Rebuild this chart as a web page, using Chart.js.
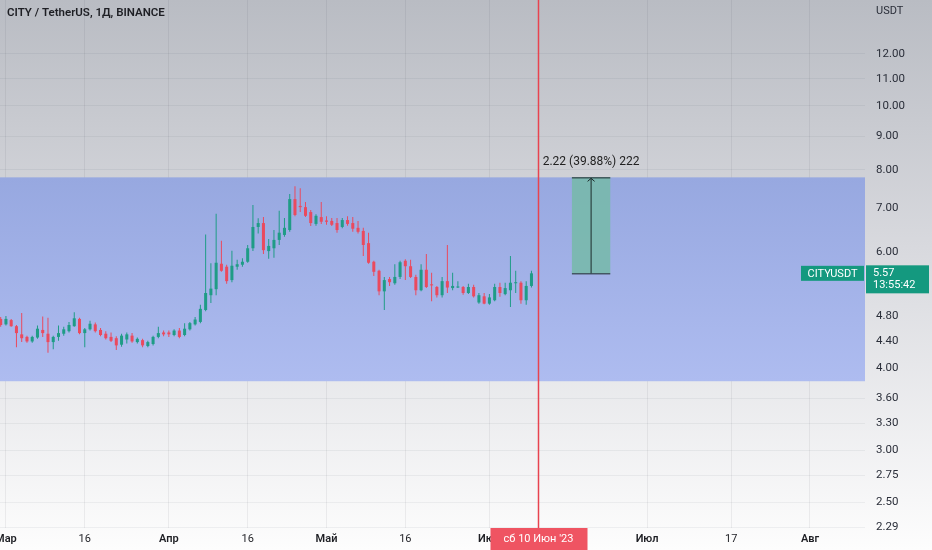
<!DOCTYPE html>
<html>
<head>
<meta charset="utf-8">
<script src="https://cdn.jsdelivr.net/npm/chart.js@4.4.0/dist/chart.umd.min.js"></script>
<style>
  html, body { margin: 0; padding: 0; background: #fff; }
  #wrap { width: 932px; height: 550px; position: relative; }
</style>
</head>
<body>
<div id="wrap"><canvas id="cityChart"></canvas></div>
<script>
const chartTitle = 'CITY / TetherUS, 1Д, BINANCE';
const firstCandleDay = -1; // 28 Feb 2023, days counted from 1 Mar 2023

const opens = [
  4.75, 4.66, 4.73, 4.63, 4.50, 4.46, 4.39, 4.45, 4.57, 4.51,
  4.38, 4.46, 4.51, 4.55, 4.63, 4.75, 4.52, 4.58, 4.66, 4.57,
  4.51, 4.46, 4.44, 4.34, 4.42, 4.48, 4.38, 4.41, 4.32, 4.35,
  4.46, 4.53, 4.53, 4.49, 4.56, 4.49, 4.58, 4.66, 4.70, 4.90,
  5.16, 5.27, 5.76, 5.70, 5.44, 5.70, 5.74, 5.80, 6.08, 6.55,
  6.64, 6.02, 6.08, 6.26, 6.37, 6.48, 7.22, 7.05, 7.02, 6.90,
  6.62, 6.78, 6.70, 6.69, 6.64, 6.55, 6.71, 6.64, 6.53, 6.46,
  6.19, 5.80, 5.62, 5.23, 5.46, 5.38, 5.50, 5.82, 5.71, 5.50,
  5.25, 5.64, 5.36, 5.31, 5.16, 5.42, 5.29, 5.30, 5.31, 5.20,
  5.31, 5.03, 5.14, 5.01, 5.07, 5.31, 5.18, 5.25, 5.38, 5.39,
  5.07, 5.33
];
const highs = [
  4.78, 4.80, 4.75, 4.65, 4.85, 4.48, 4.48, 4.64, 4.79, 4.77,
  4.48, 4.64, 4.62, 4.70, 4.86, 4.77, 4.60, 4.72, 4.69, 4.60,
  4.55, 4.53, 4.47, 4.51, 4.53, 4.52, 4.45, 4.43, 4.40, 4.48,
  4.62, 4.56, 4.56, 4.58, 4.60, 4.68, 4.70, 4.78, 4.99, 6.38,
  5.77, 6.86, 6.24, 5.74, 6.03, 5.84, 5.87, 6.15, 7.07, 6.75,
  6.78, 6.28, 6.48, 6.93, 6.76, 7.35, 7.55, 7.50, 7.15, 6.95,
  6.85, 7.15, 6.80, 6.76, 6.76, 6.76, 6.80, 6.78, 6.69, 6.53,
  6.42, 5.82, 5.64, 5.50, 5.50, 5.75, 5.82, 5.85, 5.84, 5.54,
  5.75, 5.96, 5.58, 5.33, 5.50, 6.15, 5.58, 5.42, 5.33, 5.37,
  5.35, 5.20, 5.20, 5.18, 5.37, 5.39, 5.39, 5.92, 5.62, 5.42,
  5.42, 5.62
];
const lows = [
  4.62, 4.64, 4.62, 4.30, 4.38, 4.37, 4.37, 4.43, 4.46, 4.22,
  4.27, 4.40, 4.48, 4.53, 4.62, 4.50, 4.30, 4.56, 4.53, 4.47,
  4.42, 4.38, 4.26, 4.31, 4.36, 4.37, 4.36, 4.30, 4.30, 4.33,
  4.44, 4.47, 4.46, 4.47, 4.44, 4.47, 4.56, 4.64, 4.68, 4.88,
  5.02, 5.16, 5.60, 5.37, 5.40, 5.64, 5.70, 5.78, 6.02, 6.40,
  5.96, 5.86, 5.88, 6.15, 6.33, 6.44, 6.80, 6.90, 6.78, 6.57,
  6.58, 6.62, 6.60, 6.57, 6.42, 6.52, 6.58, 6.44, 6.40, 5.92,
  5.76, 5.52, 5.16, 4.90, 5.33, 5.35, 5.46, 5.44, 5.48, 5.16,
  5.23, 5.29, 5.05, 5.12, 5.12, 5.20, 5.25, 5.29, 5.17, 5.18,
  5.12, 5.01, 5.00, 4.99, 5.05, 5.13, 5.16, 4.95, 5.20, 5.01,
  4.99, 5.30
];
const closes = [
  4.65, 4.75, 4.63, 4.52, 4.44, 4.39, 4.46, 4.59, 4.52, 4.38,
  4.46, 4.52, 4.58, 4.65, 4.76, 4.52, 4.58, 4.67, 4.55, 4.49,
  4.44, 4.40, 4.33, 4.48, 4.50, 4.39, 4.43, 4.33, 4.38, 4.46,
  4.52, 4.50, 4.50, 4.56, 4.46, 4.59, 4.68, 4.74, 4.92, 5.20,
  5.28, 5.78, 5.62, 5.42, 5.72, 5.75, 5.80, 6.08, 6.55, 6.64,
  6.04, 6.13, 6.26, 6.42, 6.53, 7.22, 6.83, 7.02, 6.81, 6.64,
  6.81, 6.67, 6.67, 6.60, 6.48, 6.71, 6.62, 6.51, 6.44, 6.15,
  5.78, 5.60, 5.23, 5.44, 5.40, 5.50, 5.79, 5.71, 5.50, 5.25,
  5.64, 5.31, 5.34, 5.16, 5.42, 5.30, 5.33, 5.32, 5.20, 5.31,
  5.14, 5.16, 5.01, 5.12, 5.31, 5.20, 5.29, 5.39, 5.40, 5.07,
  5.33, 5.57
];

const xTickDays = [0, 15, 31, 46, 61, 76, 92, 122, 138, 153];
const xTickLabels = ['Мар', '16', 'Апр', '16', 'Май', '16', 'Июн', 'Июл', '17', 'Авг'];
const monthNames = ['Мар', 'Апр', 'Май', 'Июн', 'Июл', 'Авг'];
const yTicks = [2.29, 2.5, 2.75, 3, 3.3, 3.6, 4, 4.4, 4.8, 6, 7, 8, 9, 10, 11, 12];

const lastPrice = 5.57;
const lastTimer = '13:55:42';
const rangeTop = 7.79;
const rangeBottom = 3.82;
const measureFrom = 5.57;
const measureTo = 7.79;
const measureDays = [107.7, 115];
const measureLabel = '2.22 (39.88%) 222';
const cursorDay = 101.2;
const cursorLabel = "сб 10 Июн '23";

const UP = '#1f9c86';
const DOWN = '#ea4a5e';

const candleColors = opens.map((o, i) => closes[i] >= o ? UP : DOWN);
const bodies = opens.map((o, i) => ({ x: firstCandleDay + i, y: [o, closes[i]] }));
const wicks = lows.map((l, i) => ({ x: firstCandleDay + i, y: [l, highs[i]] }));

const noPadding = (s) => {
  s.paddingTop = 0; s.paddingBottom = 0; s.paddingLeft = 0; s.paddingRight = 0;
};

const decor = {
  id: 'decor',
  beforeDraw(chart) {
    const ctx = chart.ctx;
    const g = ctx.createLinearGradient(0, 0, 0, chart.height);
    g.addColorStop(0, '#b9bcc3');
    g.addColorStop(0.45, '#d8d9de');
    g.addColorStop(1, '#fdfdfd');
    ctx.save();
    ctx.fillStyle = g;
    ctx.fillRect(0, 0, chart.width, chart.height);
    ctx.restore();
  },
  beforeDatasetsDraw(chart) {
    const { ctx, chartArea: a, scales: { y } } = chart;
    const top = y.getPixelForValue(rangeTop);
    const bottom = y.getPixelForValue(rangeBottom);
    const g = ctx.createLinearGradient(0, top, 0, bottom);
    g.addColorStop(0, '#97a8e0');
    g.addColorStop(1, '#aebcf0');
    ctx.save();
    ctx.fillStyle = g;
    ctx.fillRect(a.left, top, a.right - a.left, bottom - top);
    ctx.restore();
  },
  afterDatasetsDraw(chart) {
    const { ctx, scales: { x, y } } = chart;
    const x0 = x.getPixelForValue(measureDays[0]);
    const x1 = x.getPixelForValue(measureDays[1]);
    const yTop = y.getPixelForValue(measureTo);
    const yBot = y.getPixelForValue(measureFrom);
    const xm = (x0 + x1) / 2;
    ctx.save();
    ctx.fillStyle = 'rgba(118, 186, 168, 0.85)';
    ctx.fillRect(x0, yTop, x1 - x0, yBot - yTop);
    ctx.strokeStyle = '#1c2a2a';
    ctx.lineWidth = 1;
    ctx.beginPath();
    ctx.moveTo(x0, yTop + 0.5); ctx.lineTo(x1, yTop + 0.5);
    ctx.moveTo(x0, yBot + 0.5); ctx.lineTo(x1, yBot + 0.5);
    ctx.moveTo(xm, yBot); ctx.lineTo(xm, yTop + 1);
    ctx.moveTo(xm - 3.5, yTop + 4); ctx.lineTo(xm, yTop + 1); ctx.lineTo(xm + 3.5, yTop + 4);
    ctx.stroke();
    ctx.fillStyle = '#222';
    ctx.font = '12px Roboto';
    ctx.textAlign = 'center';
    ctx.textBaseline = 'middle';
    ctx.fillText(measureLabel, xm, yTop - 15);
    ctx.restore();
  },
  afterDraw(chart) {
    const { ctx, chartArea: a, scales: { x, y } } = chart;
    ctx.save();
    // title and currency
    ctx.fillStyle = '#1e1f24';
    ctx.font = '600 11.5px Roboto';
    ctx.textBaseline = 'middle';
    ctx.textAlign = 'left';
    ctx.fillText(chartTitle, 7, 13);
    ctx.fillStyle = '#2a2e39';
    ctx.font = '11px Roboto';
    ctx.fillText('USDT', a.right + 11, 11);

    // cursor line
    const cx = Math.round(x.getPixelForValue(cursorDay)) + 0.5;
    ctx.strokeStyle = '#e8434f';
    ctx.lineWidth = 1.5;
    ctx.beginPath();
    ctx.moveTo(cx, 0);
    ctx.lineTo(cx, a.bottom);
    ctx.stroke();
    ctx.fillStyle = '#ef5462';
    ctx.fillRect(cx - 48, a.bottom, 97, chart.height - a.bottom);
    ctx.fillStyle = '#fff';
    ctx.font = '11px Roboto';
    ctx.textAlign = 'center';
    ctx.fillText(cursorLabel, cx, a.bottom + 11);

    // last price labels
    const py = y.getPixelForValue(lastPrice);
    ctx.fillStyle = '#14997f';
    ctx.fillRect(a.right - 64, py - 7.5, 63, 15);
    ctx.fillRect(a.right + 1, py - 8, 63, 28);
    ctx.fillStyle = '#fff';
    ctx.textAlign = 'center';
    ctx.font = '11px Roboto';
    ctx.fillText('CITYUSDT', a.right - 32.5, py + 0.5);
    ctx.textAlign = 'left';
    ctx.fillText(lastPrice.toFixed(2), a.right + 8, py);
    ctx.fillText(lastTimer, a.right + 8, py + 12);
    ctx.restore();
  }
};

new Chart(document.getElementById('cityChart'), {
  type: 'bar',
  data: {
    datasets: [{
      label: 'body',
      data: bodies,
      backgroundColor: candleColors,
      grouped: false,
      barPercentage: 0.72,
      maxBarThickness: 4,
      minBarLength: 1,
    }, {
      label: 'wick',
      data: wicks,
      backgroundColor: candleColors,
      grouped: false,
      maxBarThickness: 1,
    }]
  },
  options: {
    responsive: true,
    maintainAspectRatio: false,
    animation: false,
    layout: { padding: 0 },
    plugins: {
      legend: { display: false },
      tooltip: { enabled: false }
    },
    scales: {
      x: {
        type: 'linear',
        offset: false,
        min: -1.13,
        max: 163.47,
        afterBuildTicks: (s) => { s.ticks = xTickDays.map(v => ({ value: v })); },
        afterFit: (s) => { s.height = 22; noPadding(s); },
        border: { display: false },
        grid: { color: 'rgba(40, 45, 60, 0.07)', drawTicks: false, offset: false },
        ticks: {
          autoSkip: false,
          maxRotation: 0,
          padding: 5,
          color: '#1e1f24',
          font: (c) => ({
            family: 'Roboto',
            size: 11,
            weight: c.tick && monthNames.includes(c.tick.label) ? '600' : '400'
          }),
          callback: (v) => xTickLabels[xTickDays.indexOf(v)]
        }
      },
      y: {
        type: 'logarithmic',
        position: 'right',
        min: 2.287,
        max: 14.48,
        afterBuildTicks: (s) => { s.ticks = yTicks.map(v => ({ value: v })); },
        afterFit: (s) => { s.width = 67; noPadding(s); },
        border: { display: false },
        grid: { color: 'rgba(40, 45, 60, 0.06)', drawTicks: false },
        ticks: {
          padding: 11,
          color: '#2a2e39',
          font: { family: 'Roboto', size: 11.5 },
          callback: (v) => Number(v).toFixed(2)
        }
      }
    }
  },
  plugins: [decor]
});
</script>
</body>
</html>
